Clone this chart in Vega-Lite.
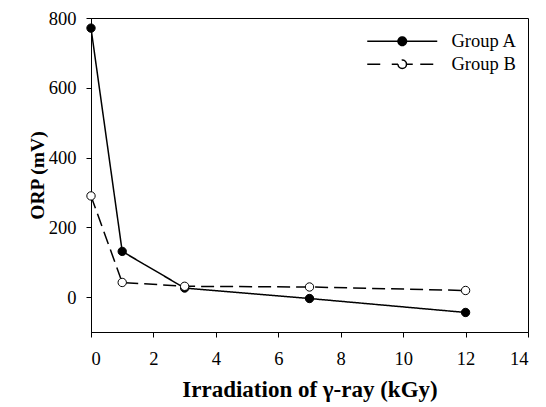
{
  "$schema": "https://vega.github.io/schema/vega-lite/v6.json",
  "width": 437,
  "height": 314,
  "autosize": {"type": "none"},
  "padding": {"left": 91, "top": 18, "right": 18, "bottom": 75},
  "background": "white",
  "config": {
    "view": {"stroke": "black", "strokeWidth": 1},
    "font": "Liberation Serif",
    "axis": {
      "grid": false,
      "domainColor": "black",
      "tickColor": "black",
      "labelColor": "black",
      "titleColor": "black",
      "labelFont": "Liberation Serif",
      "titleFont": "Liberation Serif",
      "labelFontSize": 18.5,
      "titleFontSize": 19,
      "titleFontWeight": "bold",
      "tickSize": 5,
      "domainWidth": 1
    }
  },
  "data": {
    "values": [
      {"dose": 0, "orp": 771, "group": "Group A"},
      {"dose": 1, "orp": 131, "group": "Group A"},
      {"dose": 3, "orp": 26, "group": "Group A"},
      {"dose": 7, "orp": -4, "group": "Group A"},
      {"dose": 12, "orp": -44, "group": "Group A"},
      {"dose": 0, "orp": 290, "group": "Group B"},
      {"dose": 1, "orp": 42, "group": "Group B"},
      {"dose": 3, "orp": 31, "group": "Group B"},
      {"dose": 7, "orp": 29, "group": "Group B"},
      {"dose": 12, "orp": 19, "group": "Group B"}
    ]
  },
  "encoding": {
    "x": {
      "field": "dose",
      "type": "quantitative",
      "scale": {"domain": [0, 14], "nice": false},
      "axis": {
        "title": "Irradiation of γ-ray (kGy)",
        "values": [0, 2, 4, 6, 8, 10, 12, 14],
        "labelPadding": 12,
        "titlePadding": 11,
        "titleFontSize": 23
      }
    },
    "y": {
      "field": "orp",
      "type": "quantitative",
      "scale": {"domain": [-100, 800], "nice": false},
      "axis": {
        "title": "ORP (mV)",
        "values": [0, 200, 400, 600, 800],
        "labelPadding": 10,
        "titlePadding": 1,
        "titleFontSize": 19.5
      }
    }
  },
  "layer": [
    {
      "mark": {"type": "line", "color": "black", "strokeWidth": 1.5},
      "encoding": {
        "strokeDash": {
          "field": "group",
          "type": "nominal",
          "scale": {"domain": ["Group A", "Group B"], "range": [[1, 0], [13, 6]]},
          "legend": {
            "orient": "none",
            "legendX": 302,
            "legendY": 14,
            "title": null,
            "padding": 0,
            "labelFont": "Liberation Serif",
            "labelFontSize": 18.5,
            "labelColor": "black",
            "labelOffset": 40,
            "rowPadding": 4,
            "symbolSize": 100,
            "symbolStrokeWidth": 1.5,
            "symbolStrokeColor": "black",
            "encode": {
              "symbols": {
                "update": {
                  "shape": {"signal": "datum.value === 'Group A' ? 'M-7,0H7M0.85,0A0.85,0.85 0 1,1 -0.85,0A0.85,0.85 0 1,1 0.85,0' : 'M-7,0H-3.6M-2.1,0H-0.85M0.85,0H2.1M3.6,0H7M0.85,0A0.85,0.85 0 1,1 -0.85,0A0.85,0.85 0 1,1 0.85,0'"},
                  "fill": {"signal": "datum.value === 'Group A' ? 'black' : 'white'"},
                  "fillOpacity": {"value": 1},
                  "strokeDash": {"value": []},
                  "stroke": {"value": "black"},
                  "opacity": {"value": 1}
                }
              }
            }
          }
        }
      }
    },
    {
      "mark": {"type": "point", "shape": "circle", "size": 70, "filled": true, "fillOpacity": 1, "opacity": 1, "stroke": "black", "strokeWidth": 1},
      "encoding": {
        "fill": {
          "field": "group",
          "type": "nominal",
          "scale": {"domain": ["Group A", "Group B"], "range": ["black", "white"]},
          "legend": null
        }
      }
    }
  ]
}
